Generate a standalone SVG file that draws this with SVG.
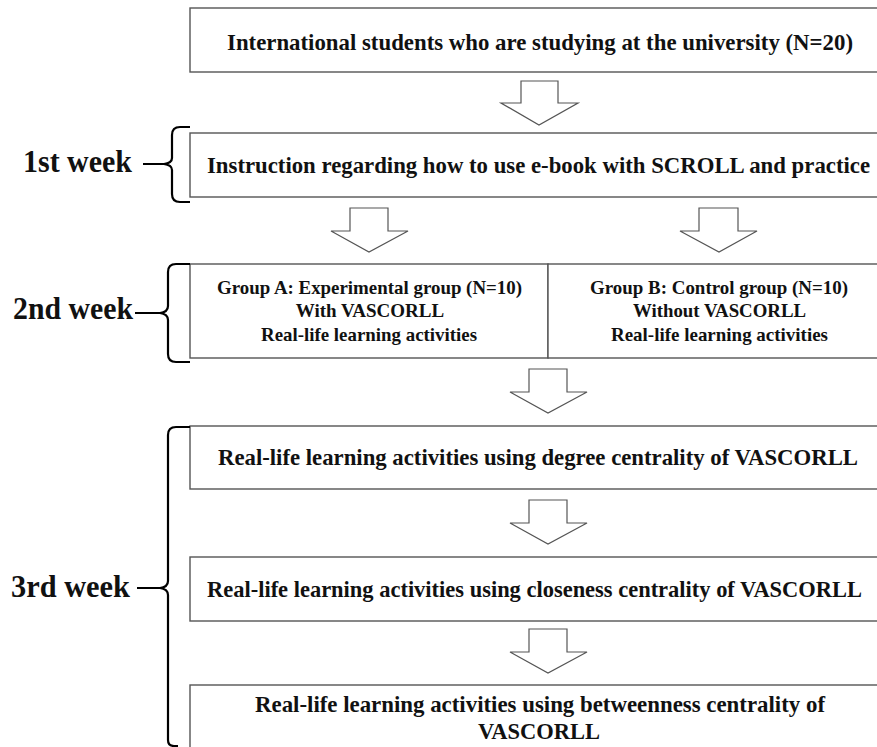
<svg xmlns="http://www.w3.org/2000/svg" width="877" height="747" viewBox="0 0 877 747">
<style>
.box{fill:#fff;stroke:#555;stroke-width:1.4}
.arr{fill:#fff;stroke:#555;stroke-width:1.2;stroke-linejoin:miter}
.brace{fill:none;stroke:#000;stroke-width:2.2;stroke-linejoin:round}
.t{font-family:"Liberation Serif","Times New Roman",serif;font-weight:bold;fill:#111;text-anchor:middle}
.m{font-size:23px}
.g{font-size:19px}
.w{font-family:"Liberation Serif","Times New Roman",serif;font-weight:bold;fill:#111;font-size:31px}
</style>
<rect width="877" height="747" fill="#fff"/>
<g id="n1"><rect class="box" x="190" y="8" width="700" height="64"/>
<text class="t m" x="540" y="50" textLength="626" lengthAdjust="spacingAndGlyphs">International students who are studying at the university (N=20)</text></g>
<g id="n2"><rect class="box" x="190" y="133" width="700" height="64"/>
<text class="t m" x="538.5" y="173" textLength="663" lengthAdjust="spacingAndGlyphs">Instruction regarding how to use e-book with SCROLL and practice</text></g>
<g id="n3"><rect class="box" x="190" y="264" width="358" height="94"/>
<text class="t g" x="369.5" y="294" textLength="305" lengthAdjust="spacingAndGlyphs">Group A: Experimental group (N=10)</text>
<text class="t g" x="370" y="317">With VASCORLL</text>
<text class="t g" x="369" y="341" textLength="216" lengthAdjust="spacingAndGlyphs">Real-life learning activities</text></g>
<g id="n4"><rect class="box" x="548" y="264" width="342" height="94"/>
<text class="t g" x="719" y="294" textLength="258" lengthAdjust="spacingAndGlyphs">Group B: Control group (N=10)</text>
<text class="t g" x="719.5" y="317" textLength="173" lengthAdjust="spacingAndGlyphs">Without VASCORLL</text>
<text class="t g" x="719.5" y="341" textLength="217" lengthAdjust="spacingAndGlyphs">Real-life learning activities</text></g>
<g id="n5"><rect class="box" x="190" y="426" width="700" height="63"/>
<text class="t m" x="538" y="465" textLength="640" lengthAdjust="spacingAndGlyphs">Real-life learning activities using degree centrality of VASCORLL</text></g>
<g id="n6"><rect class="box" x="190" y="557" width="700" height="64"/>
<text class="t m" x="534.5" y="597" textLength="655" lengthAdjust="spacingAndGlyphs">Real-life learning activities using closeness centrality of VASCORLL</text></g>
<g id="n7"><rect class="box" x="190" y="685" width="700" height="80"/>
<text class="t m" x="540" y="712" textLength="570" lengthAdjust="spacingAndGlyphs">Real-life learning activities using betweenness centrality of</text>
<text class="t m" x="539" y="739" textLength="122" lengthAdjust="spacingAndGlyphs">VASCORLL</text></g>
<g id="labels">
<text class="w" x="23" y="172" textLength="109" lengthAdjust="spacingAndGlyphs">1st week</text>
<text class="w" x="13" y="319" textLength="120" lengthAdjust="spacingAndGlyphs">2nd week</text>
<text class="w" x="11" y="597" textLength="119" lengthAdjust="spacingAndGlyphs">3rd week</text>
</g>
<g id="connectors">
<polygon class="arr" points="521,81 558,81 558,103 578,103 539,125 501,103 521,103"/>
<polygon class="arr" points="350,208 388,208 388,231 408,231 369,252 331,231 350,231"/>
<polygon class="arr" points="699,208 738,208 738,231 757,231 719,252 680,231 699,231"/>
<polygon class="arr" points="529,369 567,369 567,392 587,392 548,413 510,392 529,392"/>
<polygon class="arr" points="529,500 567,500 567,523 587,523 548,544 510,523 529,523"/>
<polygon class="arr" points="529,629 567,629 567,652 587,652 548,673 510,652 529,652"/>
<path class="brace" d="M190,127 L180,127 Q172,127 172,135 L172,158 Q172,163 164,164 Q172,165 172,170 L172,194 Q172,202 180,202 L190,202"/>
<path class="brace" d="M190,264 L176,264 Q168,264 168,272 L168,306 Q168,312 160,313 Q168,314 168,320 L168,354 Q168,362 176,362 L190,362"/>
<path class="brace" d="M190,427 L176,427 Q168,427 168,435 L168,581 Q168,587 160,588 Q168,589 168,595 L168,740 Q168,746 174,746 L178,746"/>
<line x1="143" y1="164" x2="164" y2="164" stroke="#000" stroke-width="2"/>
<line x1="135" y1="313" x2="160" y2="313" stroke="#000" stroke-width="2"/>
<line x1="137" y1="588" x2="160" y2="588" stroke="#000" stroke-width="2"/>
</g>
</svg>
